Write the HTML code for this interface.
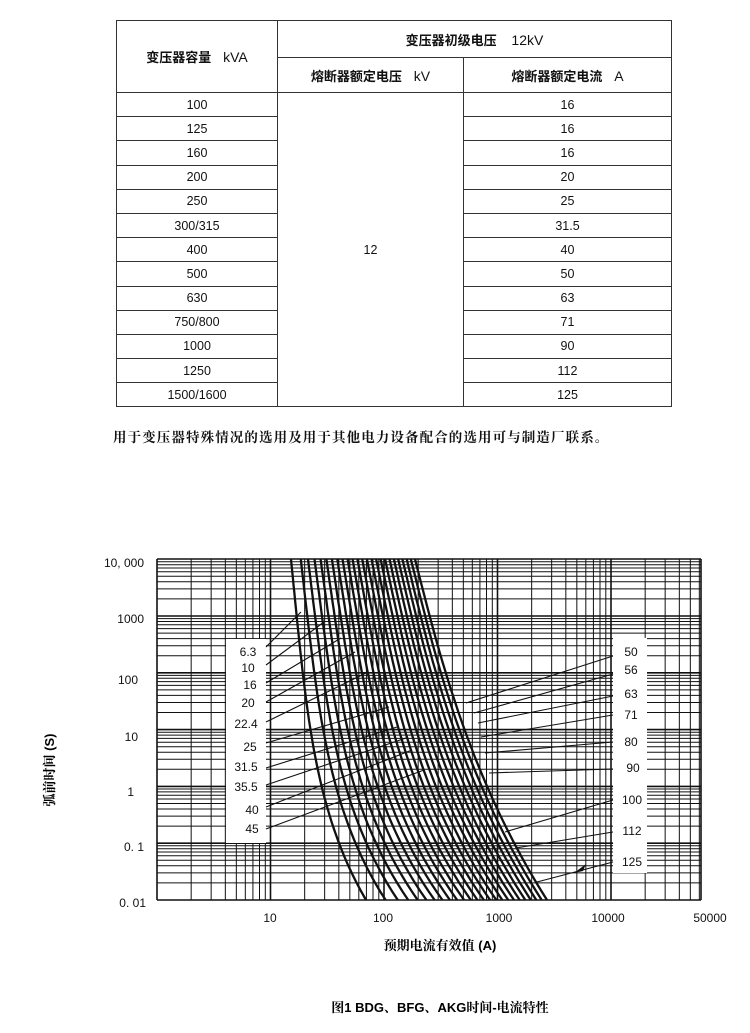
<!DOCTYPE html>
<html><head><meta charset="utf-8"><style>
body{margin:0;background:#fff;width:750px;height:1033px;overflow:hidden;position:relative;font-family:"Liberation Sans","Noto Sans CJK SC",sans-serif;color:#111}
table{position:absolute;left:116px;top:20px;border-collapse:collapse;width:556px}
td{border:1.5px solid #333;text-align:center;font-size:12.5px;padding:0;height:23.2px}
.h{font-family:"Noto Sans CJK SC","Liberation Sans",sans-serif;font-weight:bold;font-size:13px}
.h span{font-family:"Liberation Sans",sans-serif;font-weight:normal;font-size:14px}
.note{position:absolute;left:113px;top:426px;font-family:"Noto Serif CJK SC",serif;font-weight:bold;font-size:13.5px;letter-spacing:1.1px;white-space:nowrap}
svg{position:absolute;left:0;top:0}
</style></head><body>
<table>
<tr><td class="h" rowspan="2" style="width:160px;height:70px">变压器容量&nbsp;&nbsp;&nbsp; <span>kVA</span></td><td class="h" colspan="2" style="height:36px">变压器初级电压&nbsp;&nbsp;&nbsp;&nbsp; <span>12kV</span></td></tr>
<tr><td class="h" style="width:185px;height:34px">熔断器额定电压&nbsp;&nbsp;&nbsp; <span>kV</span></td><td class="h">熔断器额定电流&nbsp;&nbsp;&nbsp; <span>A</span></td></tr>
<tr><td>100</td><td rowspan="13" style="border-bottom:1.5px solid #333">12</td><td>16</td></tr>
<tr><td>125</td><td>16</td></tr>
<tr><td>160</td><td>16</td></tr>
<tr><td>200</td><td>20</td></tr>
<tr><td>250</td><td>25</td></tr>
<tr><td>300/315</td><td>31.5</td></tr>
<tr><td>400</td><td>40</td></tr>
<tr><td>500</td><td>50</td></tr>
<tr><td>630</td><td>63</td></tr>
<tr><td>750/800</td><td>71</td></tr>
<tr><td>1000</td><td>90</td></tr>
<tr><td>1250</td><td>112</td></tr>
<tr><td>1500/1600</td><td>125</td></tr>
</table>
<div class="note">用于变压器特殊情况的选用及用于其他电力设备配合的选用可与制造厂联系。</div>
<svg id="c" width="750" height="1033" font-family="Liberation Sans, sans-serif" font-size="12">
<g id="grid"></g><g id="curves"></g>
<rect x="226" y="639" width="40" height="204" fill="#fff"/>
<rect x="613" y="638" width="34" height="235" fill="#fff"/>
<g id="lead"></g>
<g font-size="12" text-anchor="middle" fill="#111">
<text x="248" y="656">6.3</text><text x="248" y="672">10</text><text x="250" y="689">16</text><text x="248" y="707">20</text><text x="246" y="728">22.4</text><text x="250" y="751">25</text><text x="246" y="771">31.5</text><text x="246" y="791">35.5</text><text x="252" y="814">40</text><text x="252" y="833">45</text>
<text x="631" y="656">50</text><text x="631" y="674">56</text><text x="631" y="698">63</text><text x="631" y="719">71</text><text x="631" y="746">80</text><text x="633" y="772">90</text><text x="632" y="804">100</text><text x="632" y="835">112</text><text x="632" y="866">125</text>
</g>
<g font-size="12" text-anchor="end" fill="#111">
<text x="144" y="567">10, 000</text><text x="144" y="623">1000</text><text x="138" y="684">100</text><text x="138" y="741">10</text><text x="134" y="796">1</text><text x="144" y="851">0. 1</text><text x="146" y="907">0. 01</text>
</g>
<g font-size="12" text-anchor="middle" fill="#111">
<text x="270" y="922">10</text><text x="383" y="922">100</text><text x="499" y="922">1000</text><text x="608" y="922">10000</text><text x="710" y="922">50000</text>
</g>
<text x="440" y="950" text-anchor="middle" font-size="13" font-family="Liberation Sans, Noto Serif CJK SC, serif" font-weight="bold">预期电流有效值 (A)</text>
<text transform="translate(54,770) rotate(-90)" text-anchor="middle" font-size="13" font-family="Liberation Sans, Noto Serif CJK SC, serif" font-weight="bold">弧前时间 (S)</text>
<text x="440" y="1012" text-anchor="middle" font-size="13" font-family="Liberation Sans, Noto Serif CJK SC, serif" font-weight="bold">图1 BDG、BFG、AKG时间-电流特性</text>
</svg>
<script>
var ns="http://www.w3.org/2000/svg";
function L(g,x1,y1,x2,y2,w,c){var e=document.createElementNS(ns,"line");e.setAttribute("x1",x1);e.setAttribute("y1",y1);e.setAttribute("x2",x2);e.setAttribute("y2",y2);e.setAttribute("stroke",c||"#111");e.setAttribute("stroke-width",w);g.appendChild(e);}
var g=document.getElementById("grid");
var X0=157,X1=701,Y0=559,Y1=900,DX=113.5,DY=56.8;
for(var d=0;d<6;d++)for(var m=1;m<10;m++){var y=Y1-(d+Math.log10(m))*DY;if(y>=Y0-0.5)L(g,X0,y,X1,y,m==1?1.6:1);}
L(g,X0,Y0,X1,Y0,1.6);
for(var d=0;d<5;d++)for(var m=1;m<10;m++){var x=X0+(d+Math.log10(m))*DX;if(x<=X1)L(g,x,Y0,x,Y1,m==1?1.6:1);}
L(g,X1,Y0,X1,Y1,1.6);
var cg=document.getElementById("curves");
var n=25;
for(var i=0;i<n;i++){var k=i/(n-1);var xt=291+124*Math.pow(k,0.8),xb=366+181*Math.pow(k,0.7);
 var a=0.45+0.2*k;var p="";
 for(var s=0;s<=40;s++){var t=s/40;var f=a*t+(1-a)*Math.pow(t,4-1.2*k);var x=xt+(xb-xt)*f;var y=Y0+t*(Y1-Y0);p+=(s?"L":"M")+x.toFixed(1)+","+y.toFixed(1);}
 var e=document.createElementNS(ns,"path");e.setAttribute("d",p);e.setAttribute("fill","none");e.setAttribute("stroke","#111");e.setAttribute("stroke-width","2.3");cg.appendChild(e);}
var lg=document.getElementById("lead");
[[266,647,301,612],[266,665,324,622],[266,683,341,638],[266,702,355,652],[266,722,366,673],[266,743,389,707],[266,768,397,727],[266,785,406,738],[266,807,412,750],[266,829,424,770],
[613,656,466,703],[613,674,474,713],[613,696,478,723],[613,715,481,737],[613,742,485,753],[613,769,489,773],[613,800,505,832],[613,832,516,848],[613,862,537,882]].forEach(function(a){L(lg,a[0],a[1],a[2],a[3],1.1);});
var ar=document.createElementNS(ns,"polygon");ar.setAttribute("points","574,873 586,864 583,871");ar.setAttribute("fill","#111");lg.appendChild(ar);
</script>
</body></html>
